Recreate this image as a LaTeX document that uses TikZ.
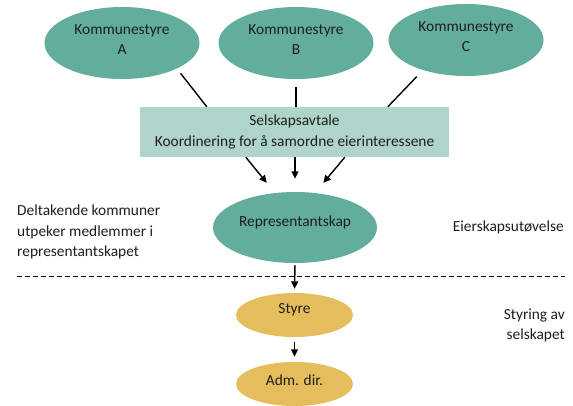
\documentclass[tikz,border=0pt]{standalone}
\usepackage{fontspec}
\setmainfont{Carlito}
\usetikzlibrary{arrows.meta,shapes.geometric}
\definecolor{tealfill}{HTML}{62AD9B}
\definecolor{boxfill}{HTML}{AED4CC}
\definecolor{goldfill}{HTML}{E4BE5C}
\definecolor{txtcol}{HTML}{1E1E1E}
\begin{document}
\begin{tikzpicture}[x=1pt,y=-1pt,
  basefont/.style={font=\fontsize{15.4pt}{20.5pt}\selectfont, text=txtcol},
  ell/.style={ellipse, inner sep=0pt, draw=none},
  tealell/.style={ell, fill=tealfill, minimum width=155pt, minimum height=72pt},
  goldell/.style={ell, fill=goldfill, minimum width=117pt, minimum height=44pt},
  lab/.style={basefont, align=center, inner sep=0pt},
  boxs/.style={basefont, align=center, fill=boxfill, inner sep=0pt, minimum width=309pt, minimum height=50pt},
  txtn/.style={basefont, inner sep=0pt},
  plainline/.style={line width=1.4pt, black},
  arr/.style={line width=1.4pt, black, -{Triangle[length=7.5pt,width=7pt]}},
  dashline/.style={line width=1.4pt, black, dash pattern=on 5pt off 3pt}
]
\useasboundingbox (0,0) rectangle (573,405);
\fill[white] (0,0) rectangle (573,405);

\node[tealell, label={[lab, name=kAt, yshift=3.5pt]center:{Kommunestyre\\A}}] (kA) at (122,43) {};
\node[tealell, label={[lab, name=kBt, yshift=3.5pt]center:{Kommunestyre\\B}}] (kB) at (296,43) {};
\node[tealell, label={[lab, name=kCt, yshift=3.5pt]center:{Kommunestyre\\C}}] (kC) at (466,40) {};

\node[boxs] (box) at (294.5,132) {Selskapsavtale\\Koordinering for å samordne eierinteressene};

\node[tealell, minimum width=164pt, minimum height=71pt, label={[lab, name=rept, yshift=5pt]center:{Representantskap}}] (rep) at (295,227.5) {};
\node[goldell, label={[lab, name=styret, yshift=5pt]center:{Styre}}] (styre) at (294.5,315) {};
\node[goldell, label={[lab, name=admt, yshift=4pt]center:{Adm. dir.}}] (adm) at (294.5,384) {};

\draw[plainline, shorten <=6pt] (kA.-25) -- ([xshift=67pt]box.north west);
\draw[plainline, shorten <=8pt] (kB.south) -- (kB.south |- box.north);
\draw[plainline, shorten <=9pt] (kC.-145) -- ([xshift=248pt]box.north west);

\draw[arr, shorten >=13pt] ([xshift=106pt]box.south west) -- (rep.120);
\draw[arr, shorten >=13pt] (rep.north |- box.south) -- (rep.north);
\draw[arr, shorten >=13pt] ([xshift=205pt]box.south west) -- (rep.60);

\coordinate (dL) at (17,276.5);
\coordinate (dR) at (565,276.5);
\draw[dashline] (dL) -- (dR);

\draw[arr, shorten <=2pt, shorten >=4pt] (rep.south) -- (styre.north);
\draw[arr, shorten <=5pt, shorten >=5pt] (styre.south) -- (adm.north);

\node[txtn, anchor=west, align=left] (lefttxt) at (17,232) {Deltakende kommuner\\utpeker medlemmer i\\representantskapet};
\node[txtn, anchor=east] (eier) at (564,227) {Eierskapsutøvelse};
\node[txtn, anchor=east, align=right] (styring) at (565,325.5) {Styring av\\selskapet};
\end{tikzpicture}
\end{document}
